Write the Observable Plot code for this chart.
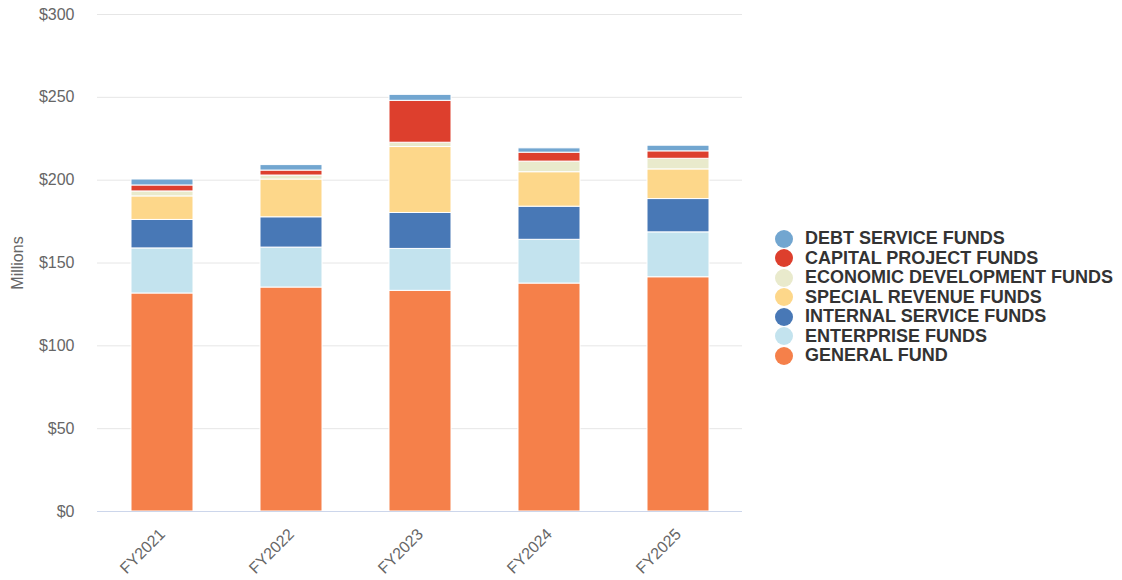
<!DOCTYPE html>
<html>
<head>
<meta charset="utf-8">
<script src="https://cdn.jsdelivr.net/npm/d3@7"></script>
<script src="https://cdn.jsdelivr.net/npm/@observablehq/plot@0.6"></script>
<style>
  html, body { margin: 0; padding: 0; background: #fff; }
  body { font-family: "Liberation Sans", Arial, Helvetica, sans-serif; }
  #wrap { position: relative; width: 1122px; height: 580px; }
  #legend { position: absolute; left: 775px; top: 229px; }
  .row { display: flex; align-items: center; height: 19.5px; }
  .sw { width: 18px; height: 18px; border-radius: 50%; margin-right: 12px; }
  .lab { font-size: 18px; font-weight: bold; color: #333; white-space: nowrap; line-height: 19.5px; }
</style>
</head>
<body>
<div id="wrap"><div id="legend"></div></div>
<script>
const years = ["FY2021", "FY2022", "FY2023", "FY2024", "FY2025"];
const funds = ["GENERAL FUND", "ENTERPRISE FUNDS", "INTERNAL SERVICE FUNDS", "SPECIAL REVENUE FUNDS", "ECONOMIC DEVELOPMENT FUNDS", "CAPITAL PROJECT FUNDS", "DEBT SERVICE FUNDS"];
const colors = ["#f5804a", "#c3e3ee", "#4878b6", "#fdd78a", "#e9eacc", "#dd3f2d", "#72a6d0"];
const generalFund = [131.6, 135.2, 133.2, 137.6, 141.4];
const enterpriseFunds = [27.2, 24.1, 25.3, 26.4, 27.1];
const internalServiceFunds = [17.2, 18.3, 21.7, 20.0, 20.1];
const specialRevenueFunds = [14.2, 22.8, 39.8, 20.8, 17.9];
const economicDevelopmentFunds = [3.0, 2.4, 2.6, 6.4, 6.4];
const capitalProjectFunds = [3.6, 3.0, 25.3, 5.4, 4.5];
const debtServiceFunds = [3.6, 3.3, 3.6, 2.6, 3.4];
const yTicks = [0, 50, 100, 150, 200, 250, 300];

const series = [generalFund, enterpriseFunds, internalServiceFunds, specialRevenueFunds, economicDevelopmentFunds, capitalProjectFunds, debtServiceFunds];
const data = [];
funds.forEach((f, i) => years.forEach((y, j) => data.push({year: y, fund: f, value: series[i][j]})));

const chart = Plot.plot({
  width: 1122,
  height: 580,
  marginLeft: 97,
  marginRight: 380,
  marginTop: 14,
  marginBottom: 69,
  style: {fontFamily: "'Liberation Sans', Arial, Helvetica, sans-serif", fontSize: "16px", color: "#666", background: "#fff"},
  x: {domain: years, paddingInner: 0.52, paddingOuter: 0.26, label: null, tickSize: 0, tickPadding: 20, tickRotate: -45},
  y: {domain: [0, 300], ticks: yTicks, label: null, tickSize: 0, tickPadding: 23, tickFormat: d => "$" + d},
  color: {domain: funds, range: colors},
  marks: [
    Plot.ruleY(yTicks.filter(d => d > 0), {stroke: "#e6e6e6", strokeWidth: 1}),
    Plot.barY(data, {x: "year", y: "value", fill: "fund", order: funds, stroke: "#fff", strokeWidth: 1}),
    Plot.ruleY([0], {stroke: "#ccd6eb", strokeWidth: 1}),
    Plot.text(["Millions"], {frameAnchor: "left", textAnchor: "middle", dx: -80, rotate: -90, fill: "#666", fontSize: 16, text: d => d})
  ]
});
document.getElementById("wrap").prepend(chart);

const legend = document.getElementById("legend");
funds.slice().reverse().forEach(f => {
  const row = document.createElement("div");
  row.className = "row";
  const sw = document.createElement("div");
  sw.className = "sw";
  sw.style.background = colors[funds.indexOf(f)];
  const lab = document.createElement("div");
  lab.className = "lab";
  lab.textContent = f;
  row.appendChild(sw); row.appendChild(lab);
  legend.appendChild(row);
});
</script>
</body>
</html>
